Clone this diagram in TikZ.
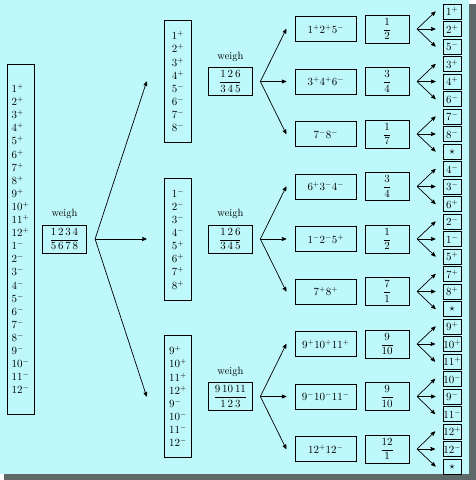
\documentclass[tikz,border=0pt]{standalone}
\usepackage{tikz}
\usetikzlibrary{arrows}
\usetikzlibrary{positioning}
\definecolor{bgcyan}{RGB}{190,248,250}
\definecolor{shadowgray}{RGB}{95,105,105}

\begin{document}
\begin{tikzpicture}[x=1pt,y=-1pt,-,>=stealth',line width=0.7pt,
    every node/.style={font=\fontsize{10.5}{13.1}\selectfont},
    list node/.style={draw,align=left,minimum width=27pt,inner sep=1pt},
    weigh node/.style={draw,minimum width=44.5pt,minimum height=28.3pt,inner sep=1pt},
    set node/.style={draw,minimum width=61.7pt,minimum height=25pt,inner sep=1pt},
    frac node/.style={draw,minimum width=44.3pt,minimum height=28.3pt,inner sep=1pt},
    leaf node/.style={draw,minimum width=17.7pt,minimum height=15pt,inner sep=0.5pt}]

      % background with drop shadow
      \useasboundingbox (0,0) rectangle (476,480);
      \fill[shadowgray] (4,4) rectangle (476,480);
      \fill[bgcyan] (0,0) rectangle (469,474);

      % first weighing
      \node [list node, minimum height=350pt] (all) at (20.5,239)
        {$1^+$\\$2^+$\\$3^+$\\$4^+$\\$5^+$\\$6^+$\\$7^+$\\$8^+$\\$9^+$\\$10^+$\\$11^+$\\$12^+$\\
         $1^-$\\$2^-$\\$3^-$\\$4^-$\\$5^-$\\$6^-$\\$7^-$\\$8^-$\\$9^-$\\$10^-$\\$11^-$\\$12^-$};
      \node [weigh node] (w1) at (64.5,239) {$\displaystyle\frac{1\,2\,3\,4}{5\,6\,7\,8}$};
      \node [above=2pt of w1] (w1lab) {weigh};
      \coordinate [right=8pt of w1] (f1);

      % second weighing
      \node [list node, minimum height=122pt] (g1) at (178,81.5)
        {$1^+$\\$2^+$\\$3^+$\\$4^+$\\$5^-$\\$6^-$\\$7^-$\\$8^-$};
      \node [list node, minimum height=122pt] (g2) at (178,239)
        {$1^-$\\$2^-$\\$3^-$\\$4^-$\\$5^+$\\$6^+$\\$7^+$\\$8^+$};
      \node [list node, minimum height=122pt] (g3) at (178,396.5)
        {$9^+$\\$10^+$\\$11^+$\\$12^+$\\$9^-$\\$10^-$\\$11^-$\\$12^-$};

      \foreach \k/\num/\den in {1/{1\,2\,6}/{3\,4\,5}, 2/{1\,2\,6}/{3\,4\,5}, 3/{9\,10\,11}/{1\,2\,3}} {
        \node [weigh node, right=16pt of g\k] (w2\k) {$\displaystyle\frac{\num}{\den}$};
        \node [above=2pt of w2\k] (w2lab\k) {weigh};
        \coordinate [right=7.3pt of w2\k] (f2\k);
        \coordinate [left=17.5pt of g\k] (g\k in);
        \draw[->] (f1) -- (g\k in);
      }

      % third weighing
      \foreach \txt/\num/\den [count=\i from 0] in {{1^+2^+5^-}/1/2, {3^+4^+6^-}/3/4, {7^-8^-}/1/7,
          {6^+3^-4^-}/3/4, {1^-2^-5^+}/1/2, {7^+8^+}/7/1,
          {9^+10^+11^+}/9/10, {9^-10^-11^-}/9/10, {12^+12^-}/12/1} {
        \node [set node] (s\i) at (325.8,29+52.5*\i) {$\txt$};
        \node [frac node] (q\i) at (387.2,29+52.5*\i) {$\displaystyle\frac{\num}{\den}$};
        \coordinate [left=8.3pt of s\i] (s\i in);
        \coordinate [right=7.4pt of q\i] (p\i);
      }

      \foreach \lab [count=\j from 0] in {1^+,2^+,5^-,3^+,4^+,6^-,7^-,8^-,\star,
          4^-,3^-,6^+,2^-,1^-,5^+,7^+,8^+,\star,
          9^+,10^+,11^+,10^-,9^-,11^-,12^+,12^-,\star} {
        \node [leaf node] (l\j) at (452.2,11.5+17.5*\j) {$\lab$};
        \coordinate [left=7.5pt of l\j] (l\j in);
      }

      \foreach \k in {1,2,3}
        \foreach \m in {0,1,2} {
          \pgfmathtruncatemacro\i{3*(\k-1)+\m}
          \draw[->] (f2\k) -- (s\i in);
        }

      \foreach \i in {0, ..., 8}
        \foreach \m in {0,1,2} {
          \pgfmathtruncatemacro\j{3*\i+\m}
          \draw[->] (p\i) -- (l\j in);
        }
    \end{tikzpicture}
\end{document}
